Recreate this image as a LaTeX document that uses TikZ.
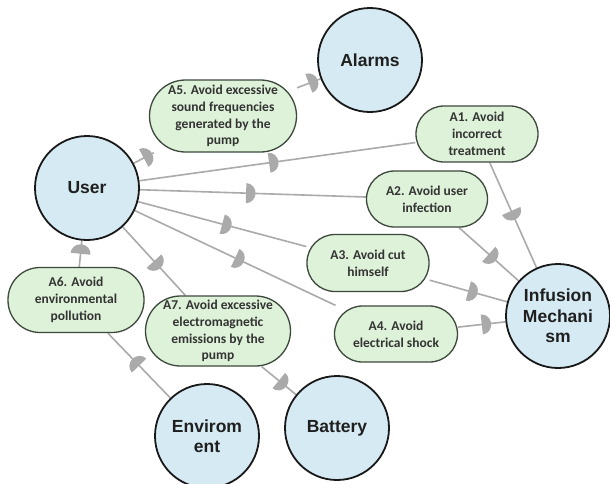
\documentclass[tikz,border=0pt]{standalone}
\usepackage{fontspec}
\newfontfamily\goalfont{Carlito}
\newfontfamily\actorfont{Liberation Sans}
\usetikzlibrary{decorations.markings,backgrounds}

\definecolor{actorblue}{RGB}{214,234,243}
\definecolor{goalgreen}{RGB}{221,242,216}
\definecolor{goalline}{RGB}{60,72,60}
\definecolor{linkgray}{RGB}{170,170,170}

\tikzset{
  actor/.style={circle, draw=black!90, line width=1.8pt, fill=actorblue,
    minimum size=104pt, inner sep=0pt, align=center,
    font=\actorfont\bfseries\fontsize{17.5}{20.5}\selectfont, text=black!88},
  goal/.style={rectangle, rounded corners=#1, draw=goalline, line width=1.3pt,
    fill=goalgreen, inner sep=0pt, align=center,
    font=\goalfont\bfseries\fontsize{13.5}{16.7}\selectfont, text=black!80},
  % dependency link: grey line with a half-disc pointing towards the dependee
  dep/.style={draw=linkgray, line width=1.6pt, postaction=decorate,
    decoration={markings, mark=at position #1 with {
      \fill[linkgray] (0pt,10pt) arc[start angle=90, end angle=-90,
        x radius=9.5pt, y radius=10pt] -- cycle;}}},
  dep/.default=0.5
}

\begin{document}
\begin{tikzpicture}[x=1pt, y=-1pt]
\useasboundingbox (0,0) rectangle (610,483);

% actors
\node[actor] (user)     at (87,188)  {User};
\node[actor] (alarms)   at (370,60)  {Alarms};
\node[actor] (infusion) at (558,316) {Infusion\\Mechani\\sm};
\node[actor] (env)      at (207,436) {Envirom\\ent};
\node[actor] (battery)  at (337,428) {Battery};

% goals
\node[goal=36pt, minimum width=147pt, minimum height=72pt] (a5) at (223,116)
  {A5. Avoid excessive\\sound frequencies\\generated by the\\pump};
\node[goal=28pt, minimum width=122pt, minimum height=56pt] (a1) at (477,134)
  {A1. Avoid\\incorrect\\treatment};
\node[goal=28pt, minimum width=121pt, minimum height=56pt] (a2) at (427,199)
  {A2. Avoid user\\infection};
\node[goal=28pt, minimum width=122pt, minimum height=57pt] (a3) at (368,263)
  {A3. Avoid cut\\himself};
\node[goal=28pt, minimum width=123pt, minimum height=56pt] (a4) at (396,334)
  {A4. Avoid\\electrical shock};
\node[goal=32pt, minimum width=136pt, minimum height=65pt] (a6) at (76,300)
  {A6. Avoid\\environmental\\pollution};
\node[goal=35pt, minimum width=145pt, minimum height=70pt] (a7) at (218,331)
  {A7. Avoid excessive\\electromagnetic\\emissions by the\\pump};

% white page, then the dependency links beneath the nodes
\begin{scope}[on background layer]
\fill[white] (0,0) rectangle (610,483);
\draw[dep] (user) -- (a5);
\draw[dep] (a5) -- (alarms);
\draw[dep=0.47] (user) -- (a1);
\draw[dep=0.47] (user) -- (a2);
\draw[dep] (user) -- (a3);
\draw[dep] (user) -- (a4);
\draw[dep] (user) -- (a7);
\draw[dep] (a6) -- (user);
\draw[dep] (env) -- (a6);
\draw[dep] (a7) -- (battery);
\draw[dep=0.46] (a1) -- (infusion);
\draw[dep] (a2) -- (infusion);
\draw[dep] (a3) -- (infusion);
\draw[dep] (a4) -- (infusion);
\end{scope}
\end{tikzpicture}
\end{document}
